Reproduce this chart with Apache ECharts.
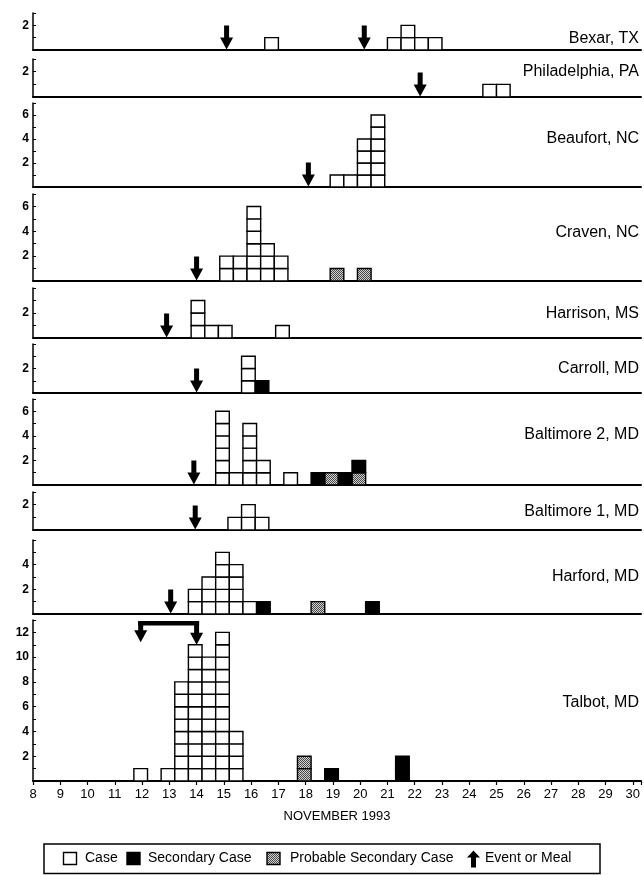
<!DOCTYPE html>
<html>
<head>
<meta charset="utf-8">
<script src="https://cdn.jsdelivr.net/npm/echarts@6/dist/echarts.min.js"></script>
<style>
  html, body { margin: 0; padding: 0; background: #fff; }
  #chart { width: 644px; height: 875px; }
</style>
</head>
<body>
<div id="chart"></div>
<script>
// outbreak sites, top to bottom
const panelNames = ['Bexar, TX', 'Philadelphia, PA', 'Beaufort, NC', 'Craven, NC', 'Harrison, MS',
  'Carroll, MD', 'Baltimore 2, MD', 'Baltimore 1, MD', 'Harford, MD', 'Talbot, MD'];
const yMax = [3, 3, 7, 7, 4, 4, 7, 3, 6, 13];

// [day of November (half-day bins), number of cases]
const cases = [
  [[16.75, 1], [21.25, 1], [21.75, 2], [22.25, 1], [22.75, 1]],
  [[24.75, 1], [25.25, 1]],
  [[19.15, 1], [19.65, 1], [20.15, 4], [20.65, 6]],
  [[15.1, 2], [15.6, 2], [16.1, 6], [16.6, 3], [17.1, 2]],
  [[14.05, 3], [14.55, 1], [15.05, 1], [17.15, 1]],
  [[15.9, 3]],
  [[14.95, 6], [15.45, 1], [15.95, 5], [16.45, 2], [17.45, 1]],
  [[15.4, 1], [15.9, 2], [16.4, 1]],
  [[13.95, 2], [14.45, 3], [14.95, 5], [15.45, 4], [15.95, 1]],
  [[11.95, 1], [12.95, 1], [13.45, 8], [13.95, 11], [14.45, 10], [14.95, 12], [15.45, 4]]
];
const probable = [
  [], [], [],
  [[19.15, 1], [20.15, 1]],
  [], [],
  [[18.95, 1], [19.95, 1]],
  [],
  [[18.45, 1]],
  [[17.95, 2]]
];
const secondary = [
  [], [], [], [], [],
  [[16.4, 1]],
  [[18.45, 1], [19.45, 1], [19.95, 1]],
  [],
  [[16.45, 1], [20.45, 1]],
  [[18.95, 1], [21.55, 2]]
];
// day of the event or meal
const events = [
  [15.1, 20.15], [22.2], [18.1], [14.0], [12.9], [14.0], [13.9], [13.95], [13.05], []
];
const talbotMeal = [11.95, 14.0]; // Talbot: meals spread over several days
const xMin = 8, xMax = 30;
const xAxisName = 'NOVEMBER 1993';
const legendNames = ['Case', 'Secondary Case', 'Probable Secondary Case', 'Event or Meal'];

// layout (px)
const panelTop = [13, 59, 103, 194, 288, 344, 399, 492, 540, 620];
const panelBase = [50, 97, 187, 281, 338, 393, 485, 530, 614, 781];
const labelY = [39, 72, 139, 233, 314, 369, 435, 512, 577, 703];
const FONT = 'Liberation Sans, Arial, Helvetica, sans-serif';

// stippled fill for probable secondary cases
const pat = document.createElement('canvas');
pat.width = 2; pat.height = 2;
const pctx = pat.getContext('2d');
pctx.fillStyle = '#d0d0d0'; pctx.fillRect(0, 0, 2, 2);
pctx.fillStyle = '#4a4a4a'; pctx.fillRect(0, 0, 1, 1); pctx.fillRect(1, 1, 1, 1);
const fills = ['#fff', '#000', { image: pat, repeat: 'repeat' }];

// one item per case box: [day, level, type]
function buildBoxes(i) {
  const h = {};
  const out = [];
  [[cases[i], 0], [probable[i], 2], [secondary[i], 1]].forEach(([list, t]) => {
    list.forEach(([d, n]) => {
      const k = d.toFixed(2);
      for (let j = 0; j < n; j++) {
        out.push([d, (h[k] || 0), t]);
        h[k] = (h[k] || 0) + 1;
      }
    });
  });
  return out;
}

function renderBox(params, api) {
  const d = api.value(0), lv = api.value(1), t = api.value(2);
  const a = api.coord([d - 0.25, lv]);
  const b = api.coord([d + 0.25, lv + 1]);
  return {
    type: 'rect',
    shape: { x: a[0], y: b[1], width: b[0] - a[0], height: a[1] - b[1] },
    style: { fill: fills[t], stroke: '#000', lineWidth: 1.4 }
  };
}

function downArrow(x, y) {
  // tip at (x, y)
  return [[x - 2.5, y - 24], [x + 2.5, y - 24], [x + 2.5, y - 12], [x + 6.5, y - 12],
          [x, y], [x - 6.5, y - 12], [x - 2.5, y - 12]];
}

function renderArrow(params, api) {
  const p = api.coord([api.value(0), 0]);
  return { type: 'polygon', shape: { points: downArrow(p[0], p[1] - 0.5) }, style: { fill: '#000' } };
}

function renderBracket(params, api) {
  const a = api.coord([api.value(0), 12.92]);
  const b = api.coord([api.value(1), 12.92]);
  const tipA = api.coord([api.value(0), 11.2]);
  const tipB = api.coord([api.value(1), 11.0]);
  const head = (x, y) => [[x - 6.5, y - 12], [x + 6.5, y - 12], [x, y]];
  return {
    type: 'group',
    children: [
      { type: 'rect', shape: { x: a[0] - 2.5, y: a[1], width: b[0] - a[0] + 5, height: 4.5 }, style: { fill: '#000' } },
      { type: 'rect', shape: { x: a[0] - 2.5, y: a[1], width: 5, height: tipA[1] - a[1] - 11 }, style: { fill: '#000' } },
      { type: 'rect', shape: { x: b[0] - 2.5, y: b[1], width: 5, height: tipB[1] - b[1] - 11 }, style: { fill: '#000' } },
      { type: 'polygon', shape: { points: head(a[0], tipA[1]) }, style: { fill: '#000' } },
      { type: 'polygon', shape: { points: head(b[0], tipB[1]) }, style: { fill: '#000' } }
    ]
  };
}

const last = panelNames.length - 1;
const grid = [], xAxis = [], yAxis = [], series = [], graphic = [];

panelNames.forEach((name, i) => {
  grid.push({ left: 33, right: 3, top: panelTop[i], height: panelBase[i] - panelTop[i] });
  xAxis.push({
    gridIndex: i, type: 'value', min: xMin, max: xMax + 0.3, interval: 1,
    axisLine: { onZero: false, lineStyle: { color: '#000', width: 2 } },
    axisTick: { show: i === last, length: 4, lineStyle: { color: '#000', width: 1.2 } },
    axisLabel: {
      show: i === last, margin: 7, color: '#000', fontSize: 13, fontFamily: FONT,
      formatter: v => (Number.isInteger(v) ? String(v) : '')
    },
    splitLine: { show: false },
    name: i === last ? xAxisName : '',
    nameLocation: 'middle', nameGap: 29,
    nameTextStyle: { color: '#000', fontSize: 13, fontFamily: FONT }
  });
  yAxis.push({
    gridIndex: i, type: 'value', min: 0, max: yMax[i], interval: 1,
    axisLine: { show: true, lineStyle: { color: '#000', width: 1.5 } },
    axisTick: { show: true, inside: true, length: 3, lineStyle: { color: '#000' } },
    axisLabel: {
      margin: 4, color: '#000', fontSize: 12, fontWeight: 'bold', fontFamily: FONT,
      formatter: v => (v > 0 && v % 2 === 0 && v < yMax[i] ? String(v) : '')
    },
    splitLine: { show: false }
  });
  series.push({
    type: 'custom', xAxisIndex: i, yAxisIndex: i, clip: false,
    renderItem: renderBox, encode: { x: 0, y: 1 }, data: buildBoxes(i)
  });
  if (events[i].length) {
    series.push({
      type: 'custom', xAxisIndex: i, yAxisIndex: i, clip: false,
      renderItem: renderArrow, encode: { x: 0, y: 1 }, data: events[i].map(d => [d, 0])
    });
  }
  graphic.push({
    type: 'text', x: 639, y: labelY[i],
    style: { text: name, align: 'right', verticalAlign: 'middle', fill: '#000', font: '16px ' + FONT }
  });
});

series.push({
  type: 'custom', xAxisIndex: last, yAxisIndex: last, clip: false,
  renderItem: renderBracket, encode: { x: [0, 1] }, data: [talbotMeal]
});

// legend box
const ly = 858.5;
graphic.push(
  { type: 'rect', shape: { x: 44, y: 844, width: 556, height: 29.5 }, style: { fill: 'none', stroke: '#000', lineWidth: 1.5 } },
  { type: 'rect', shape: { x: 63.5, y: ly - 6, width: 13, height: 12 }, style: { fill: fills[0], stroke: '#000', lineWidth: 1.4 } },
  { type: 'text', x: 85, y: ly, style: { text: legendNames[0], verticalAlign: 'middle', fill: '#000', font: '14px ' + FONT } },
  { type: 'rect', shape: { x: 127, y: ly - 6, width: 13, height: 12 }, style: { fill: fills[1], stroke: '#000', lineWidth: 1.4 } },
  { type: 'text', x: 148, y: ly, style: { text: legendNames[1], verticalAlign: 'middle', fill: '#000', font: '14px ' + FONT } },
  { type: 'rect', shape: { x: 267, y: ly - 6, width: 13, height: 12 }, style: { fill: fills[2], stroke: '#000', lineWidth: 1.4 } },
  { type: 'text', x: 290, y: ly, style: { text: legendNames[2], verticalAlign: 'middle', fill: '#000', font: '14px ' + FONT } },
  { type: 'polygon', shape: { points: [[473.5, ly - 8], [480, ly - 1], [476, ly - 1], [476, ly + 9], [471, ly + 9], [471, ly - 1], [467, ly - 1]] }, style: { fill: '#000' } },
  { type: 'text', x: 485, y: ly, style: { text: legendNames[3], verticalAlign: 'middle', fill: '#000', font: '14px ' + FONT } }
);

const chart = echarts.init(document.getElementById('chart'));
chart.setOption({
  animation: false,
  backgroundColor: '#fff',
  grid, xAxis, yAxis, series, graphic
});
</script>
</body>
</html>
